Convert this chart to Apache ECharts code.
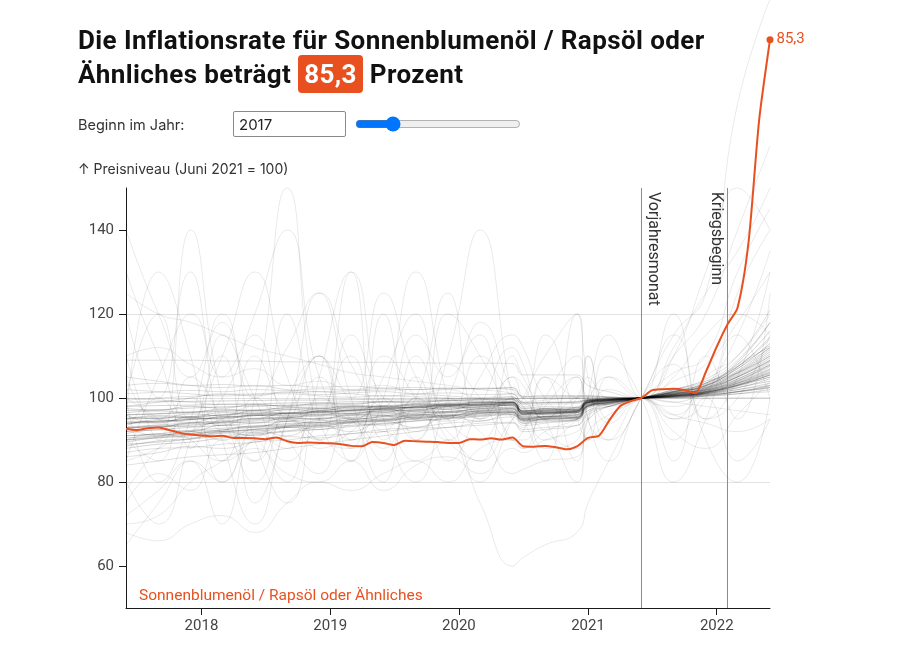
<!DOCTYPE html>
<html lang="de">
<head>
<meta charset="utf-8">
<title>Inflationsrate Sonnenblumenöl / Rapsöl</title>
<script src="https://cdn.jsdelivr.net/npm/echarts@6/dist/echarts.min.js"></script>
<style>
  html, body { margin: 0; padding: 0; background: #fff; }
  #main { position: absolute; left: 0; top: 0; width: 900px; height: 650px; }
  #head { position: absolute; left: 0; top: 0; width: 900px; height: 150px; z-index: 2; font-family: Roboto, sans-serif; color: #111; pointer-events: none; }
  #head h1 { position: absolute; left: 78px; top: 23px; margin: 0; font-size: 26px; letter-spacing: 0.4px; line-height: 34px; font-weight: 700; white-space: nowrap; }
  #head .hl { background: #e8511f; color: #fff; border-radius: 4px; padding: 4px 6px; }
  #head .lbl { position: absolute; left: 78px; top: 115px; font-family: Inter, sans-serif; font-size: 14.5px; line-height: 20px; color: #333; }
  #head input[type=text] { position: absolute; left: 233px; top: 111px; width: 113px; height: 26px; box-sizing: border-box; border: 1px solid #8a8a8a; border-radius: 2px; padding: 0 5px; font: 15px Inter, sans-serif; color: #222; pointer-events: auto; }
  #head input[type=range] { position: absolute; left: 355px; top: 116px; width: 166px; height: 16px; margin: 0; pointer-events: auto; }
</style>
</head>
<body>
<div id="main"></div>
<div id="head">
  <h1 id="title"></h1>
  <div class="lbl">Beginn im Jahr:</div>
  <input type="text" id="startYear" value="2017">
  <input type="range" id="slider" min="2016" max="2021" step="1" value="2017">
</div>
<script>
// Sonnenblumenöl / Rapsöl oder Ähnliches, Preisniveau (Juni 2021 = 100), monatlich ab Juni 2017
var seriesName = 'Sonnenblumenöl / Rapsöl oder Ähnliches';
var firstMonth = [2017, 6];
var oilValues = [
  92.6, 92.4, 92.8, 93.0, 92.4, 91.7, 91.3,            // 2017 Jun-Dez
  91.1, 90.9, 91.0, 90.5, 90.5, 90.4, 90.2, 90.6, 89.7, 89.3, 89.4, 89.3, // 2018
  89.2, 89.0, 88.6, 88.5, 89.5, 89.3, 88.8, 89.8, 89.7, 89.6, 89.5, 89.3, // 2019
  89.3, 90.2, 90.1, 90.4, 90.1, 90.6, 88.5, 88.4, 88.6, 88.3, 87.8, 88.5, // 2020
  90.5, 91.0, 94.5, 98.0, 99.2, 100, 101.8, 102.1, 102.2, 101.9, 101.2, 106.2, // 2021
  112.2, 117.6, 121.5, 137.0, 166.0, 185.3              // 2022 Jan-Jun
];

// Vergleichsreihen (andere Güter), gelesen an diesen Stichmonaten
var grayDates = ['2017-06','2017-09','2017-12','2018-03','2018-06','2018-09',
  '2018-12','2019-03','2019-06','2019-09','2019-12','2020-03','2020-06',
  '2020-07','2020-09','2020-12','2021-01','2021-03','2021-06','2021-09',
  '2021-12','2022-03','2022-06'];

var grayBand = [
  [94,94.5,95,95.3,95.8,96.2,96.5,97,97.3,97.6,98,98.3,98.5,96.3,96.5,96.8,99,99.4,100,100.6,101.3,103.5,106],
  [92,92.5,93,93.5,94,94.5,95,95.4,95.8,96.3,96.8,97.2,97.5,95.5,95.7,96,98.6,99.2,100,100.8,101.8,104.5,108],
  [96,96.3,96.5,96.8,97,97.2,97.5,97.8,98,98.3,98.5,98.8,99,96.8,96.9,97.1,99.3,99.6,100,100.4,101,102.5,104],
  [90,90.8,91.5,92,92.6,93.2,93.8,94.3,94.8,95.3,95.8,96.3,96.8,94.8,95,95.4,98.2,99,100,101,102.5,106,111],
  [93,93.2,93.8,94,94.5,95,95.2,95.8,96.2,96.5,96.8,97.4,97.8,96,96.2,96.5,98.8,99.3,100,100.5,101.2,103,105.5],
  [95,95.5,95.4,96,96.5,96.3,97,97.5,97.3,98,98.4,98.2,98.8,96.5,96.8,97,99.1,99.5,100,100.7,101.6,104,107.5],
  [91,91.5,92.3,92.8,93.2,93.9,94.2,94.8,95.5,95.8,96.4,96.9,97.3,95.2,95.5,95.8,98.4,99,100,101.2,102,105,109],
  [97,97.2,97.6,97.9,98.1,98.3,98.5,98.7,99,99.1,99.3,99.5,99.6,97.4,97.5,97.7,99.5,99.7,100,100.2,100.7,101.5,103],
  [89,89.5,90.2,91,91.5,92.2,93,93.5,94,94.6,95.2,95.8,96.2,94.5,94.6,95,97.9,98.8,100,101.4,103,107,113],
  [94,94.2,94.9,95.2,95.9,95.9,96.8,96.8,97.6,97.8,98.3,98.6,99,96.7,96.6,97,99.1,99.6,100,100.5,101.5,103.5,106.5],
  [92,93,93.5,94.2,94.8,95.3,95.7,96,96.5,96.9,97.3,97.8,98.2,96.2,96.5,96.8,98.8,99.4,100,100.9,102.2,105.5,110],
  [98,98.2,98.3,98.5,98.6,98.8,98.9,99.1,99.2,99.3,99.5,99.6,99.7,98.8,98.9,99,99.6,99.8,100,100.1,100.4,101,102],
  [95,95.2,95.5,96,96.2,96.5,96.8,97.1,97.5,97.8,98.1,98.4,98.7,96.2,96.4,96.7,99,99.4,100,100.8,101.8,104.5,108.5],
  [90,90.5,91,91.8,92.5,93,93.4,94.1,94.6,95,95.6,96,96.5,94.5,94.9,95.3,98,98.8,100,101.3,102.8,106.5,112],
  [96,96.2,96.7,97,97.2,97.6,97.8,98,98.2,98.5,98.8,99,99.2,97,97.1,97.4,99.3,99.7,100,100.3,100.9,102,103.5],
  [93,93.6,94,94.6,95,95.5,96,96.3,96.8,97.2,97.6,97.9,98.3,96.1,96.3,96.6,98.9,99.4,100,100.7,101.6,103.8,107],
  [91,91.3,91.6,92.4,93,93.4,94.1,94.5,95.1,95.7,96,96.6,97,95,95.3,95.6,98.5,99.1,100,101.1,102.3,105.8,110.5],
  [94,94.5,94.8,95.5,95.8,96.4,96.6,97.2,97.4,97.9,98.2,98.6,98.9,96.6,96.7,97,99.2,99.5,100,100.6,101.4,103,105.5],
  [99,99.1,99.2,99.3,99.4,99.5,99.5,99.6,99.7,99.7,99.8,99.8,99.9,99.9,99.9,99.9,100,100,100,100,100,100,100],
  [88,89,89.5,90.5,91.2,92,92.5,93.2,93.8,94.5,95,95.6,96,94,94.3,94.8,97.6,98.6,100,101.5,103.5,108,116],
  [93.5,94.8,94.2,95.6,95.1,96.4,95.9,97.1,96.6,97.8,97.3,98.4,98.1,96.4,96.9,96.6,98.9,99.6,100,101.2,101.9,104.2,107.8],
  [95.5,95.1,96.2,95.8,96.9,96.4,97.4,97.1,98.1,97.6,98.7,98.3,99.1,96.9,97.4,97.2,99.4,99.5,100,100.9,101.5,103.2,106.2],
  [91.5,92.4,92.1,93.5,93.1,94.4,94.1,95.2,94.9,96.1,95.8,96.9,96.9,95.1,95.6,95.4,98.3,98.9,100,101.6,102.6,106.2,111.5],
  [97.5,97.1,98,97.6,98.4,98.1,98.7,98.5,99.1,98.8,99.4,99.1,99.6,97.6,97.9,97.8,99.5,99.7,100,100.6,101.1,102.4,104.6],
  [89.5,90.6,91.2,92.1,92.2,93.3,93.6,94.4,94.7,95.5,95.7,96.5,96.6,94.8,95.3,95.2,98.1,98.9,100,101.3,102.9,107.4,114.5],
  [94.5,94.3,95.3,95,96,95.7,96.6,96.4,97.2,97,97.9,97.6,98.4,96.5,96.3,96.9,99,99.3,100,100.4,101.1,102.8,105],
  [92.5,93.4,93.2,94.3,94.1,95.2,95,96,95.8,96.8,96.6,97.5,97.6,95.7,96.1,96.2,98.7,99.2,100,101,102.1,105.2,109.5],
  [96.5,96.9,96.6,97.3,97,97.7,97.4,98.2,97.9,98.6,98.4,99,98.9,96.9,97.2,97.3,99.4,99.6,100,100.5,101.3,103.6,106.8],
  [90.5,91,92,92.4,93.4,93.6,94.6,94.8,95.6,95.9,96.6,96.8,97.4,95.4,95.6,96,98.3,99,100,101.5,103.2,107.5,112.5],
  [95,95.8,95.6,96.5,96.3,97.2,96.9,97.8,97.7,98.3,98.2,98.9,98.9,96.8,97,97.2,99.2,99.6,100,100.8,101.4,103.2,105.8],
  [93,93.1,94.1,94.3,95.2,95.3,96.2,96.3,97,97.2,97.9,98,98.5,96.4,96.5,96.8,98.9,99.3,100,100.9,102.4,105,108.8],
  [88.5,89.8,90.3,91.6,91.8,93,93.2,94.2,94.4,95.4,95.4,96.3,96.6,94.7,95,95.5,98.1,98.7,100,101.6,103.6,108.5,118]
];

var grayWide = [
  [86,87,88.5,88,89.5,90,91,91.5,92.5,93,94,94.5,95.5,93.5,94,95,97,98.5,100,102,104,109,118],
  [102,101.5,101,100.5,100.8,101,100.5,100.2,100.5,100.3,100,99.8,100.2,98,98.5,98.7,99.5,99.8,100,100.5,101,102,103],
  [84,85,86,86.5,87,88,89,90,91,92,93,93.5,94,92,92.5,93.5,96.5,98,100,102,104.5,110,121],
  [105,104,103,102.5,103,102,101.5,101,100.5,100.8,100.5,100,100.3,98.5,98.8,99,99.6,99.8,100,100.2,100.5,101.5,102.5],
  [90,91.5,90.5,92,91,93,92.5,94,93.5,95,94.5,96.5,96,95,95.5,96.5,98,99.5,100,101.5,103,107,112],
  [96,94,95.5,93.5,96,94.5,97,95,97.5,96,98.5,97,99,96,97.5,96.5,99,98.5,100,99,101.5,104,108],
  [87,88,88.2,89,89.5,90.8,90.5,91.5,92,92.8,93,94,94.2,92.5,93,93.5,96,98,100,101.8,103.5,107.5,114],
  [100,99.5,99,98.5,98.5,98,98.2,98,97.8,98,98.3,98.5,98.7,97,97.3,97.6,99.2,99.6,100,100.4,101.2,103,105],
  [93,91,92,90,92.5,91,93.5,92,94.5,93,95.5,94.5,96.5,94,95,94.5,98,98.5,100,100.5,102,105,109],
  [98,99,100,101,100.5,101.5,100.8,101.2,101.5,101,101.2,100.8,101,98.8,99,99.2,99.7,99.8,100,100.3,100.8,101.5,102.5],
  [109,109,109,108.8,108.8,108.6,108.6,108.5,108.5,108.4,108.3,108.3,108.2,105.5,105.5,105.5,103,101.5,100,100,100.5,101,101.5],
  [103,103.5,103,103.2,102.8,103,102.6,102.8,102.4,102.5,102.2,102.3,102,100,100.2,100.3,100.5,100.2,100,100.3,100.8,101.6,102.8],
  [101,101.4,101.8,101.5,102,101.8,102.2,101.9,102.3,102,102.4,102.1,102.5,100.3,100.5,100.4,100.5,100.3,100,100.5,101.2,103,105.5],
  [99.5,100,100.4,100.8,101,101.3,101.5,101.7,101.9,102,102.2,102.3,102.4,100.4,100.5,100.6,100.4,100.2,100,100.2,100.6,101.4,102.4]
];

var grayVolatile = [
  [95,130,110,80,100,150,95,85,120,90,110,140,100,95,85,120,105,90,100,85,110,95,125],
  [80,70,90,110,75,95,125,100,80,105,90,85,110,105,95,80,100,115,100,120,95,105,130],
  [110,90,140,100,85,120,95,130,90,100,125,95,105,100,115,95,90,105,100,110,130,150,140],
  [65,75,85,70,90,80,100,95,85,110,95,90,100,98,92,88,95,102,100,105,115,120,115],
  [85,88,92,95,98,96,90,94,97,95,96,92,82,83,85,86,92,96,100,106,110,130,145],
  [70,72,80,85,90,95,90,88,92,85,90,75,60,62,65,68,75,85,100,115,125,170,195],
  [100,120,95,110,130,105,90,115,100,95,120,110,95,93,105,100,110,95,100,90,100,85,95],
  [90,85,105,95,80,100,110,90,105,120,95,100,90,88,100,110,95,85,100,108,95,100,115],
  [75,82,78,90,85,95,88,92,98,90,100,95,105,103,95,100,110,98,100,95,105,110,120],
  [120,100,130,105,115,95,110,100,125,105,95,110,100,98,90,95,100,105,100,98,103,115,135],
  [100,95,90,85,88,82,80,85,78,84,86,82,88,87,90,92,95,98,100,102,104,106,110],
  [68,66,70,72,68,75,80,78,82,85,80,88,90,88,92,95,97,98,100,101,103,106,110],
  [110,112,108,105,107,103,104,102,103,101,102,100,101,99,99.5,100,100,100,100,96,94,92,95],
  [125,120,118,115,112,110,108,106,105,104,103,102,101,99,100,100,100,100,100,99,98,97,96],
  [100,80,95,120,90,75,105,130,95,80,100,115,90,92,105,85,95,110,100,80,95,115,100],
  [85,105,120,90,70,95,110,85,100,130,100,80,95,100,110,120,95,90,100,115,90,80,100],
  [130,110,95,100,120,140,105,95,110,100,90,105,115,112,100,95,105,100,100,110,120,140,160],
  [78,88,95,85,100,90,82,95,88,100,92,85,95,96,88,90,100,94,100,92,88,96,104],
  [105,95,100,92,110,98,105,88,100,95,108,100,90,90,98,105,95,100,100,112,125,135,150],
  [92,100,88,115,100,85,95,110,92,100,85,98,112,108,95,100,90,95,100,95,100,125,140],
  [72,78,85,80,92,88,95,90,96,92,98,95,100,99,96,98,99,100,100,104,108,118,130],
  [140,120,105,118,100,112,125,108,98,115,105,118,102,100,95,105,100,98,100,96,102,108,112]
];

// Achsen und Markierungen
var yTicks = [60, 80, 100, 120, 140];
var yearTicks = [2018, 2019, 2020, 2021, 2022];
var markers = [
  { date: '2021-06', text: 'Vorjahresmonat', side: 'insideStartTop' },
  { date: '2022-02', text: 'Kriegsbeginn', side: 'insideStartBottom' }
];

var ORANGE = '#e8511f';
var FONT = 'Roboto, sans-serif';

// "JJJJ-MM" -> Zeitstempel (Monatsanfang)
function ts(s) {
  var p = s.split('-');
  return new Date(+p[0], +p[1] - 1, 1).getTime();
}

// Monatsliste aufbauen
var months = [];
for (var i = 0; i < oilValues.length; i++) {
  var m = firstMonth[1] - 1 + i;
  var mm = (m % 12) + 1;
  months.push((firstMonth[0] + Math.floor(m / 12)) + '-' + (mm < 10 ? '0' + mm : mm));
}
var baseIdx = months.indexOf(markers[0].date);
var lastIdx = oilValues.length - 1;
var rate = (oilValues[lastIdx] / oilValues[baseIdx] - 1) * 100;
var rateText = rate.toFixed(1).replace('.', ',');

document.getElementById('title').innerHTML =
  'Die Inflationsrate für Sonnenblumenöl / Rapsöl oder<br>Ähnliches beträgt <span class="hl">' + rateText + '</span> Prozent';

var yearStamps = yearTicks.map(function (yr) { return new Date(yr, 0, 1).getTime(); });

var myChart = echarts.init(document.getElementById('main'));

function grayLine(vals, color) {
  return {
    type: 'line',
    data: grayDates.map(function (d, i) { return [ts(d), vals[i]]; }),
    symbol: 'none',
    showSymbol: false,
    smooth: 0.5,
    clip: false,
    silent: true,
    z: 1,
    lineStyle: { color: color, width: 1 }
  };
}

var series = [];
grayBand.forEach(function (v) { series.push(grayLine(v, 'rgba(0,0,0,0.17)')); });
grayWide.forEach(function (v) { series.push(grayLine(v, 'rgba(0,0,0,0.12)')); });
grayVolatile.forEach(function (v) { series.push(grayLine(v, 'rgba(0,0,0,0.085)')); });

var oilData = months.map(function (d, i) {
  if (i === lastIdx) {
    return {
      value: [ts(d), oilValues[i]],
      symbol: 'circle',
      symbolSize: 7,
      label: { show: true, position: 'right', distance: 3, formatter: rateText, color: ORANGE, fontSize: 15, fontFamily: FONT }
    };
  }
  return [ts(d), oilValues[i]];
});

series.push({
  name: seriesName,
  type: 'line',
  data: oilData,
  symbol: 'none',
  showSymbol: true,
  showAllSymbol: true,
  smooth: 0.25,
  clip: false,
  z: 5,
  itemStyle: { color: ORANGE },
  lineStyle: { color: ORANGE, width: 2 },
  markLine: {
    silent: true,
    animation: false,
    symbol: ['none', 'none'],
    lineStyle: { color: '#8c8c8c', width: 1, type: 'solid' },
    label: { show: true, formatter: '{b}', color: '#333', fontSize: 16, fontFamily: FONT, distance: 4 },
    data: markers.map(function (mk) {
      return [
        { name: mk.text, coord: [ts(mk.date), 150], label: { position: mk.side } },
        { coord: [ts(mk.date), 50] }
      ];
    })
  }
});

var option = {
  animation: false,
  backgroundColor: '#fff',
  textStyle: { fontFamily: FONT },
  grid: { left: 126, right: 130, top: 188, bottom: 42, containLabel: false, outerBoundsMode: 'none' },
  xAxis: {
    type: 'value',
    min: ts(months[0]),
    max: ts(months[lastIdx]),
    axisLine: { show: true, onZero: false, lineStyle: { color: '#1a1a1a', width: 1 } },
    axisTick: { show: true, length: 7, customValues: yearStamps, lineStyle: { color: '#1a1a1a' } },
    axisLabel: {
      customValues: yearStamps,
      formatter: function (v) { return String(new Date(v).getFullYear()); },
      color: '#444', fontSize: 15, margin: 11, fontFamily: FONT
    },
    splitLine: { show: false }
  },
  yAxis: {
    type: 'value',
    min: 50,
    max: 150,
    splitNumber: 5,
    axisLine: { show: true, onZero: false, lineStyle: { color: '#1a1a1a', width: 1 } },
    axisTick: { show: true, length: 7, customValues: yTicks, lineStyle: { color: '#1a1a1a' } },
    axisLabel: { customValues: yTicks, color: '#444', fontSize: 15, margin: 12, fontFamily: FONT },
    splitLine: { show: true, showMinLine: false, showMaxLine: false, lineStyle: { color: '#e2e2e2', width: 1 } }
  },
  graphic: [
    { type: 'text', left: 78, top: 163, silent: true,
      style: { text: '↑ Preisniveau (Juni 2021 = 100)', fill: '#333', font: '14px Inter, sans-serif' } },
    { type: 'text', left: 139, top: 588, silent: true, z: 10,
      style: { text: seriesName, fill: ORANGE, font: '15.5px ' + FONT } }
  ],
  series: series
};

myChart.setOption(option);
</script>
</body>
</html>
